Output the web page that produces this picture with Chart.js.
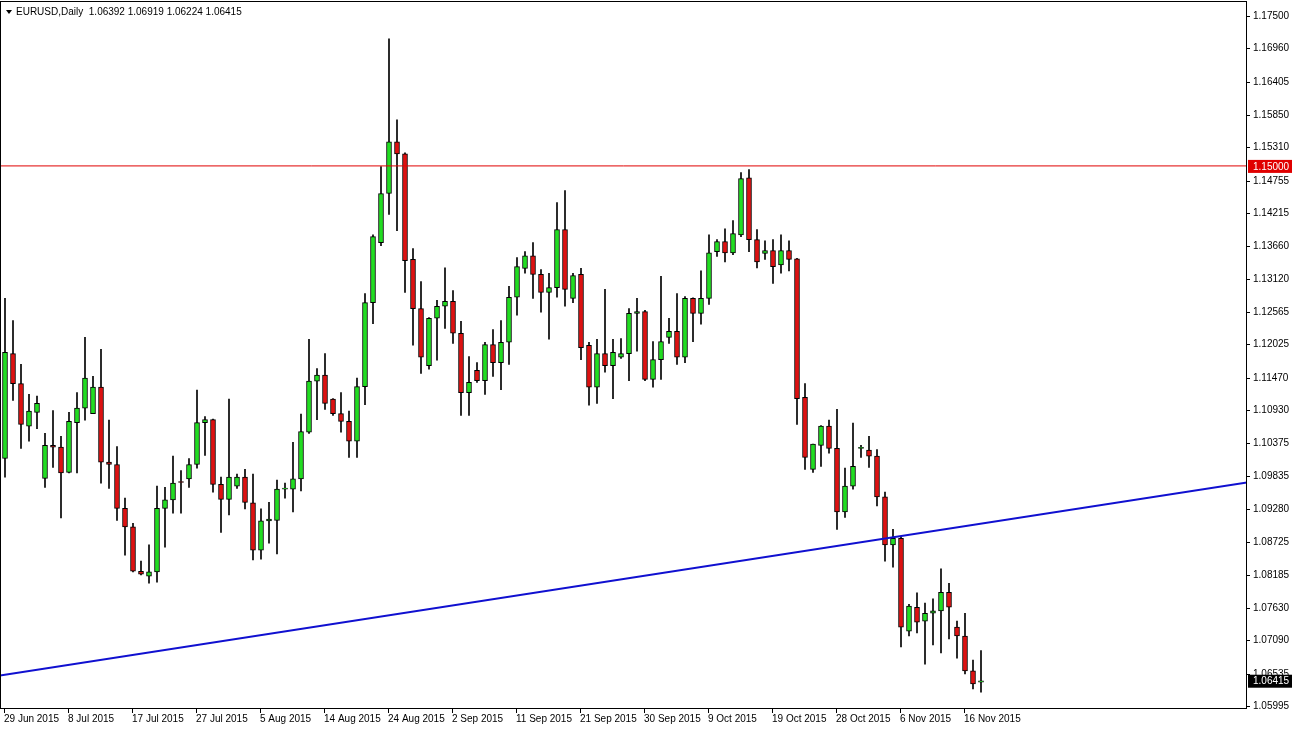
<!DOCTYPE html>
<html><head><meta charset="utf-8">
<script src="https://cdn.jsdelivr.net/npm/chart.js@4/dist/chart.umd.min.js"></script>
<style>html,body{margin:0;padding:0;background:#fff;overflow:hidden}canvas{display:block}</style>
</head><body>
<canvas id="c" width="1292" height="731"></canvas>
<script>
const opens=[1.1012,1.1187,1.1137,1.1066,1.1089,1.0979,1.1034,1.1031,1.0989,1.1072,
1.1096,1.1087,1.1131,1.1006,1.1002,1.0929,1.0898,1.0824,1.0816,1.0823,
1.0929,1.0943,1.0973,1.0978,1.1002,1.1072,1.1077,1.0969,1.0944,1.0966,
1.0981,1.0938,1.0859,1.0908,1.0909,1.0961,1.0961,1.0978,1.1056,1.1141,
1.1151,1.1111,1.1087,1.1074,1.1041,1.1132,1.1272,1.1372,1.1454,1.1540,
1.1520,1.1344,1.1262,1.1167,1.1246,1.1266,1.1274,1.1221,1.1122,1.1159,
1.1142,1.1202,1.1172,1.1206,1.1281,1.1329,1.1350,1.1319,1.1289,1.1297,
1.1394,1.1279,1.1319,1.1201,1.1131,1.1187,1.1167,1.1181,1.1187,1.1254,
1.1257,1.1144,1.1177,1.1214,1.1224,1.1181,1.1279,1.1254,1.1279,1.1357,
1.1374,1.1355,1.1385,1.1480,1.1377,1.1354,1.1359,1.1335,1.1359,1.1345,
1.1114,1.0994,1.1034,1.1066,1.1029,1.0923,1.0966,1.1029,1.1026,1.1016,
1.0948,1.0868,1.0879,1.0724,1.0764,1.0741,1.0754,1.0758,1.0789,1.0731,
1.0716,1.0658,1.06392];
const highs=[1.1279,1.1242,1.1169,1.1119,1.1116,1.1054,1.1092,1.1049,1.1089,1.1122,
1.1214,1.1149,1.1194,1.1076,1.1032,1.0946,1.0904,1.0841,1.0868,1.0966,
1.0964,1.1016,1.0992,1.1012,1.1126,1.1082,1.1078,1.0981,1.1111,1.0986,
1.0994,1.0986,1.0928,1.0939,1.0976,1.0971,1.1039,1.1086,1.1211,1.1162,
1.1187,1.1112,1.1122,1.1091,1.1146,1.1287,1.1385,1.1499,1.1712,1.1577,
1.1522,1.1362,1.1307,1.1247,1.1276,1.1330,1.1292,1.1241,1.1182,1.1172,
1.1206,1.1227,1.1242,1.1299,1.1347,1.1357,1.1372,1.1327,1.1321,1.1439,
1.1459,1.1321,1.1329,1.1206,1.1211,1.1294,1.1211,1.1212,1.1262,1.1279,
1.1259,1.1207,1.1316,1.1246,1.1287,1.1282,1.1280,1.1325,1.1385,1.1377,
1.1395,1.1409,1.1489,1.1494,1.1394,1.1375,1.1377,1.1385,1.1375,1.1346,
1.1137,1.1036,1.1067,1.1076,1.1094,1.0996,1.1071,1.1034,1.1049,1.1027,
1.0956,1.0894,1.0881,1.0769,1.0788,1.0771,1.0778,1.0828,1.0804,1.0741,
1.0754,1.0676,1.06919];
const lows=[1.0981,1.1109,1.1029,1.1041,1.1062,1.0964,1.0997,1.0913,1.0988,1.0988,
1.1076,1.1087,1.0971,1.0962,1.0909,1.0851,1.0823,1.0818,1.0804,1.0806,
1.0864,1.0921,1.0921,1.0964,1.0996,1.1017,1.0956,1.0889,1.0918,1.0962,
1.0928,1.0843,1.0844,1.0871,1.0853,1.0946,1.0923,1.0958,1.1054,1.1077,
1.1094,1.1084,1.1056,1.1014,1.1014,1.1102,1.1237,1.1367,1.1419,1.1392,
1.1289,1.1201,1.1154,1.1161,1.1176,1.1229,1.1204,1.1084,1.1084,1.1139,
1.1119,1.1149,1.1127,1.1169,1.1251,1.1321,1.1279,1.1256,1.1211,1.1281,
1.1266,1.1272,1.1177,1.1101,1.1104,1.1156,1.1112,1.1179,1.1142,1.1191,
1.1142,1.1131,1.1144,1.1204,1.1169,1.1172,1.1207,1.1236,1.1269,1.1349,
1.1340,1.1352,1.1382,1.1357,1.1330,1.1344,1.1304,1.1321,1.1325,1.1069,
1.0994,1.0989,1.0999,1.1021,1.0894,1.0914,1.0961,1.1014,1.0997,1.0933,
1.0841,1.0831,1.0698,1.0716,1.0721,1.0669,1.0701,1.0688,1.0711,1.0679,
1.0653,1.0628,1.06224];
const closes=[1.1189,1.1137,1.1069,1.1091,1.1104,1.1034,1.1031,1.0988,1.1074,1.1096,
1.1146,1.1131,1.1006,1.1002,1.0929,1.0898,1.0824,1.0819,1.0823,1.0929,
1.0943,1.0971,1.0972,1.1002,1.1072,1.1077,1.0969,1.0944,1.0981,1.0981,
1.0939,1.0859,1.0908,1.0911,1.0961,1.0962,1.0978,1.1057,1.1141,1.1151,
1.1104,1.1087,1.1074,1.1041,1.1132,1.1272,1.1382,1.1454,1.1540,1.1520,
1.1342,1.1262,1.1181,1.1246,1.1266,1.1274,1.1221,1.1122,1.1139,1.1142,
1.1202,1.1172,1.1206,1.1281,1.1332,1.1350,1.1319,1.1289,1.1297,1.1394,
1.1294,1.1317,1.1197,1.1131,1.1187,1.1167,1.1189,1.1187,1.1254,1.1257,
1.1144,1.1177,1.1207,1.1224,1.1181,1.1279,1.1254,1.1279,1.1355,1.1374,
1.1355,1.1387,1.1479,1.1377,1.1340,1.1359,1.1332,1.1359,1.1344,1.1112,
1.1014,1.1036,1.1066,1.1029,1.0923,1.0966,1.0999,1.1030,1.1016,1.0948,
1.0868,1.0879,1.0731,1.0766,1.0739,1.0754,1.0758,1.0789,1.0764,1.0716,
1.0658,1.0636,1.06415];
const dateLabels=["29 Jun 2015","8 Jul 2015","17 Jul 2015","27 Jul 2015","5 Aug 2015","14 Aug 2015","24 Aug 2015","2 Sep 2015","11 Sep 2015","21 Sep 2015","30 Sep 2015","9 Oct 2015","19 Oct 2015","28 Oct 2015","6 Nov 2015","16 Nov 2015"];
const dateLabelBars=[0,8,16,24,32,40,48,56,64,72,80,88,96,104,112,120];
const priceTicks=[1.17500,1.16960,1.16405,1.15850,1.15310,1.14755,1.14215,1.13660,1.13120,1.12565,1.12025,1.11470,1.10930,1.10375,1.09835,1.09280,1.08725,1.08185,1.07630,1.07090,1.06535,1.05995];
const resistanceLevel=[1.15,1.15];
const trendLine=[1.0650,1.0972];
const trendBars=[-0.625,155.25];
const title="EURUSD,Daily  1.06392 1.06919 1.06224 1.06415";

const idx=opens.map((_,i)=>i);
const up=idx.map(i=>closes[i]>=opens[i]);
const FAM='"Liberation Sans", Arial, sans-serif';
const FONT='10px '+FAM;

const deco={id:'deco',
 afterDraw(ch){
  const c=ch.ctx, a=ch.chartArea, xs=ch.scales.x, ys=ch.scales.y;
  c.save();
  c.strokeStyle='#000';c.lineWidth=1;
  c.strokeRect(a.left+0.5,a.top+0.5,a.right-a.left-1,a.bottom-a.top);
  c.font=FONT;c.fillStyle='#000';c.textBaseline='top';c.textAlign='left';
  dateLabelBars.forEach((b,k)=>{const x=xs.getPixelForValue(b);
    c.beginPath();c.moveTo(Math.round(x)-0.5,a.bottom);c.lineTo(Math.round(x)-0.5,a.bottom+5);c.stroke();
    c.fillText(dateLabels[k],x-1,a.bottom+6);});
  c.textBaseline='middle';
  priceTicks.forEach(v=>{const y=Math.round(ys.getPixelForValue(v))+0.5;
    c.beginPath();c.moveTo(a.right-1,y);c.lineTo(a.right+3,y);c.stroke();
    c.fillText(v.toFixed(5),a.right+6,y);});
  c.beginPath();c.moveTo(6,10);c.lineTo(12,10);c.lineTo(9,14);c.closePath();c.fill();
  c.fillText(title,16,12);
  const tag=(v,bg)=>{const y=ys.getPixelForValue(v);
    c.fillStyle=bg;c.fillRect(a.right+1,y-6,44,13);
    c.fillStyle='#fff';c.fillText(v.toFixed(5),a.right+6,y+1);};
  tag(resistanceLevel[0],'#e00000');
  tag(closes[closes.length-1],'#000');
  c.restore();
 }};

new Chart(document.getElementById('c'),{
 data:{datasets:[
  {type:'line',data:trendBars.map((b,i)=>({x:b,y:resistanceLevel[i]})),borderColor:'#e00000',borderWidth:1,pointRadius:0,order:0},
  {type:'line',data:trendBars.map((b,i)=>({x:b,y:trendLine[i]})),borderColor:'#1010d0',borderWidth:2,pointRadius:0,order:0},
  {type:'bar',data:idx.map(i=>({x:i,y:[opens[i],closes[i]]})),backgroundColor:idx.map(i=>up[i]?'#22dd22':'#dd1111'),borderColor:'#000',borderWidth:1,borderSkipped:false,barThickness:5,minBarLength:1,grouped:false,order:1},
  {type:'bar',data:idx.map(i=>({x:i,y:[lows[i],highs[i]]})),backgroundColor:'#000',borderWidth:0,barThickness:1,grouped:false,order:2}
 ]},
 options:{responsive:false,animation:false,devicePixelRatio:1,
  layout:{padding:{left:0,top:1,right:0,bottom:0}},
  plugins:{legend:{display:false},tooltip:{enabled:false}},
  scales:{
   x:{type:'linear',min:-0.625,max:155.25,offset:false,grid:{display:false},border:{display:false},ticks:{display:false},
      afterFit(ax){ax.height=23;}},
   y:{position:'right',min:1.0596,max:1.1775,grid:{display:false},border:{display:false},ticks:{display:false},
      afterFit(ax){ax.width=45;}}
  }},
 plugins:[deco]
});
</script>
</body></html>
